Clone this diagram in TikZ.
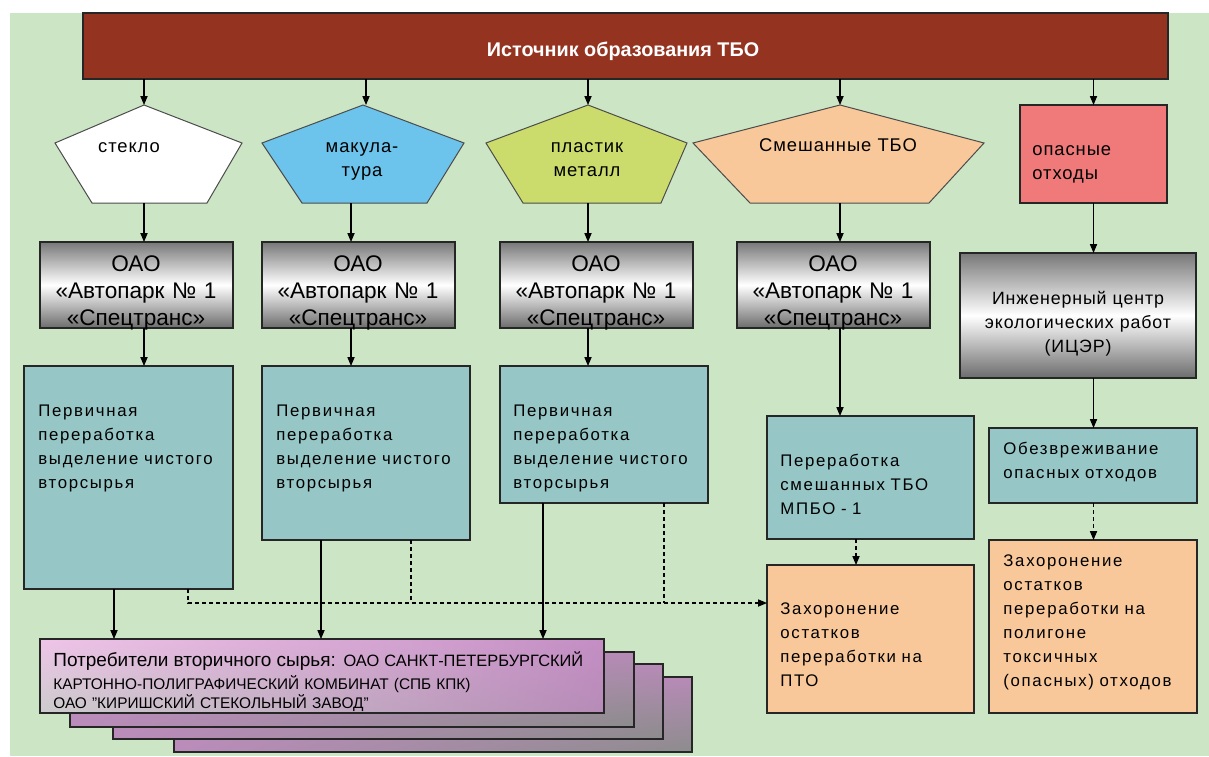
\documentclass[tikz,border=0pt]{standalone}
\usepackage{fontspec}
\setmainfont{Liberation Sans}
\newfontfamily\widefont[LetterSpace=10]{Liberation Sans}
\newfontfamily\midfont[LetterSpace=5]{Liberation Sans}
\usetikzlibrary{fit,arrows.meta,shadings}
\definecolor{bggreen}{RGB}{204,229,197}
\definecolor{srcred}{RGB}{148,51,32}
\definecolor{glasswhite}{RGB}{255,255,255}
\definecolor{paperblue}{RGB}{108,196,236}
\definecolor{plasticgreen}{RGB}{204,220,108}
\definecolor{mixorange}{RGB}{249,200,154}
\definecolor{hazardred}{RGB}{240,122,122}
\definecolor{procteal}{RGB}{150,198,198}
\definecolor{carriergray}{RGB}{120,120,120}
\definecolor{consumerpink}{RGB}{239,196,232}
\definecolor{consumerpurple}{RGB}{196,142,196}
\tikzset{
 tbo frame/.style={draw=black!85,line width=0.6pt,inner sep=0pt,outer sep=0pt},
 tbo source/.style={tbo frame,fill=srcred},
 tbo pent/.style={draw=black!70,line width=0.5pt},
 tbo carrier/.style={tbo frame,top color=carriergray,bottom color=carriergray!90!black,
                     middle color=white},
 tbo process/.style={tbo frame,fill=procteal},
 tbo burial/.style={tbo frame,fill=mixorange},
 tbo hazard/.style={tbo frame,fill=hazardred},
 tbo back/.style={tbo frame,upper left=consumerpurple,upper right=consumerpurple!80!gray,
                  lower left=consumerpurple!85!gray,lower right=gray!90},
 tbo front/.style={tbo frame,upper left=consumerpink,upper right=consumerpurple,
                   lower left=gray!40,lower right=consumerpurple!80!gray},
 tbo text/.style={inner sep=0pt,align=left,text width=180pt,
                  font=\widefont\fontsize{8.4}{12}\selectfont},
 tbo label/.style={inner sep=0pt,align=center,text width=120pt,
                   font=\midfont\fontsize{9.2}{12}\selectfont},
 tbo carrier text/.style={inner sep=0pt,align=center,text width=100pt,
                          font=\fontsize{11.3}{13.5}\selectfont},
 tbo arrow/.style={line width=0.55pt,-{Triangle[length=4.5pt,width=3.6pt]}},
 tbo dash/.style={tbo arrow,dash pattern=on 2pt off 1.5pt}
}
\begin{document}
\begin{tikzpicture}[x=0.5pt,y=-0.5pt]
 \useasboundingbox (0,0) rectangle (1209,756);
 \fill[white] (0,0) rectangle (1209,756);
 \fill[bggreen] (10,13) rectangle (1209,756);

 % source of waste
 \node[tbo source,fit={(83,13) (1168,79)}] (src) {};
 \node[inner sep=0pt,text=white,font=\bfseries\fontsize{9.9}{11}\selectfont,anchor=base]
   (srct) at (623,56) {Источник образования ТБО};

 % fractions
 \coordinate (p1top) at (144,105); \coordinate (p1bot) at (144,203);
 \coordinate (p2top) at (366,105); \coordinate (p2bot) at (351,203);
 \coordinate (p3top) at (588,105); \coordinate (p3bot) at (588,203);
 \coordinate (p4top) at (840,105); \coordinate (p4bot) at (840,203);
 \draw[tbo pent,fill=glasswhite] (p1top)--(242,143)--(207,203)--(92,203)--(55,143)--cycle;
 \draw[tbo pent,fill=paperblue] (363,105)--(464,143)--(427,203)--(302,203)--(262,143)--cycle;
 \draw[tbo pent,fill=plasticgreen] (p3top)--(687,143)--(661,203)--(523,203)--(486,143)--cycle;
 \draw[tbo pent,fill=mixorange] (p4top)--(984,143)--(929,203)--(750,203)--(693,143)--cycle;
 \node[tbo hazard,fit={(1020,105) (1167,203)}] (haz) {};
 \node[tbo label,anchor=base] (p1t) at (129,152) {стекло};
 \node[tbo label,anchor=base] (p2t) at (362,152) {макула-\\тура};
 \node[tbo label,anchor=base] (p3t) at (587,152) {пластик\\металл};
 \node[tbo label,anchor=base] (p4t) at (838,151) {Смешанные ТБО};
 \node[tbo label,align=left,text width=80pt,anchor=base west] (hazt) at (1032,155)
   {опасные\\отходы};

 % carriers
 \node[tbo carrier,fit={(40,242) (233,328)}] (g1) {};
 \node[tbo carrier,fit={(262,242) (455,328)}] (g2) {};
 \node[tbo carrier,fit={(500,242) (693,328)}] (g3) {};
 \node[tbo carrier,fit={(737,242) (930,328)}] (g4) {};
 \node[tbo carrier,fit={(960,253) (1196,378)}] (g5) {};
 \foreach \g/\x in {1/136,2/358,3/596,4/833}
   \node[tbo carrier text,anchor=base] (g\g t) at (\x,271)
     {ОАО\\«Автопарк №~1\\«Спецтранс»};
 \node[tbo label,font=\midfont\fontsize{8.9}{12.2}\selectfont,text width=130pt,anchor=base]
   (g5t) at (1078,304) {Инженерный центр\\экологических работ\\(ИЦЭР)};

 % processing
 \node[tbo process,fit={(24,366) (233,589)}] (t1) {};
 \node[tbo process,fit={(262,366) (470,540)}] (t2) {};
 \node[tbo process,fit={(500,366) (708,503)}] (t3) {};
 \node[tbo process,fit={(767,416) (974,539)}] (t4) {};
 \node[tbo process,fit={(989,428) (1197,503)}] (t5) {};
 \node[tbo burial,fit={(767,565) (974,713)}] (o1) {};
 \node[tbo burial,fit={(989,540) (1197,713)}] (o2) {};
 \foreach \t/\x in {1/38,2/276,3/513}
   \node[tbo text,anchor=base west] (t\t t) at (\x,416)
     {Первичная\\переработка\\выделение чистого\\вторсырья};
 \node[tbo text,anchor=base west] (t4t) at (780,466) {Переработка\\смешанных ТБО\\МПБО - 1};
 \node[tbo text,anchor=base west] (t5t) at (1003,454) {Обезвреживание\\опасных отходов};
 \node[tbo text,anchor=base west] (o1t) at (780,614)
   {Захоронение\\остатков\\переработки на\\ПТО};
 \node[tbo text,anchor=base west] (o2t) at (1003,566)
   {Захоронение\\остатков\\переработки на\\полигоне\\токсичных\\(опасных) отходов};

 % consumers
 \node[tbo back,fit={(174,677) (692,752)}] (s4) {};
 \node[tbo back,fit={(113,664) (663,739)}] (s3) {};
 \node[tbo back,fit={(70,652) (634,727)}] (s2) {};
 \node[tbo front,fit={(40,639) (604,713)}] (s1) {};
 \node[inner sep=0pt,align=left,text width=290pt,anchor=base west,
       font=\fontsize{7.7}{8}\selectfont] (s1t) at (53,666)
   {{\fontsize{9.5}{8}\selectfont Потребители вторичного сырья:}
    {\fontsize{8.2}{8}\selectfont ОАО САНКТ-ПЕТЕРБУРГСКИЙ}\\[2pt]
    КАРТОННО-ПОЛИГРАФИЧЕСКИЙ КОМБИНАТ (СПБ КПК)\\
    ОАО "КИРИШСКИЙ СТЕКОЛЬНЫЙ ЗАВОД"};

 % flows
 \foreach \p in {1,...,4}
   \draw[tbo arrow] (src.south -| p\p top) -- (p\p top);
 \draw[tbo arrow] (src.south -| haz.north) -- (haz.north);
 \foreach \p in {1,...,4}
   \draw[tbo arrow] (p\p bot) -- (p\p bot |- g\p.north);
 \draw[tbo arrow] (haz.south) -- (haz.south |- g5.north);
 \draw[tbo arrow] (g1.south -| p1bot) -- (p1bot |- t1.north);
 \draw[tbo arrow] (g2.south -| p2bot) -- (p2bot |- t2.north);
 \draw[tbo arrow] (g3.south -| p3bot) -- (p3bot |- t3.north);
 \draw[tbo arrow] (g4.south -| p4bot) -- (p4bot |- t4.north);
 \draw[tbo arrow] (g5.south -| haz.south) -- (haz.south |- t5.north);
 \draw[tbo dash] (t4.south -| 856,0) -- (o1.north -| 856,0);
 \draw[tbo dash] (t5.south -| haz.south) -- (haz.south |- o2.north);
 \draw[tbo arrow] (t1.south -| 114,0) -- (s1.north -| 114,0);
 \draw[tbo arrow] (t2.south -| 321,0) -- (s1.north -| 321,0);
 \draw[tbo arrow] (t3.south -| 543,0) -- (s1.north -| 543,0);
 \coordinate (waste) at (188,603);
 \draw[tbo dash] (t1.south -| waste) -- (waste) -- (waste -| o1.west);
 \draw[tbo dash,-] (t2.south -| 411,0) -- (411,603);
 \draw[tbo dash,-] (t3.south -| 664,0) -- (664,603);
\end{tikzpicture}
\end{document}
